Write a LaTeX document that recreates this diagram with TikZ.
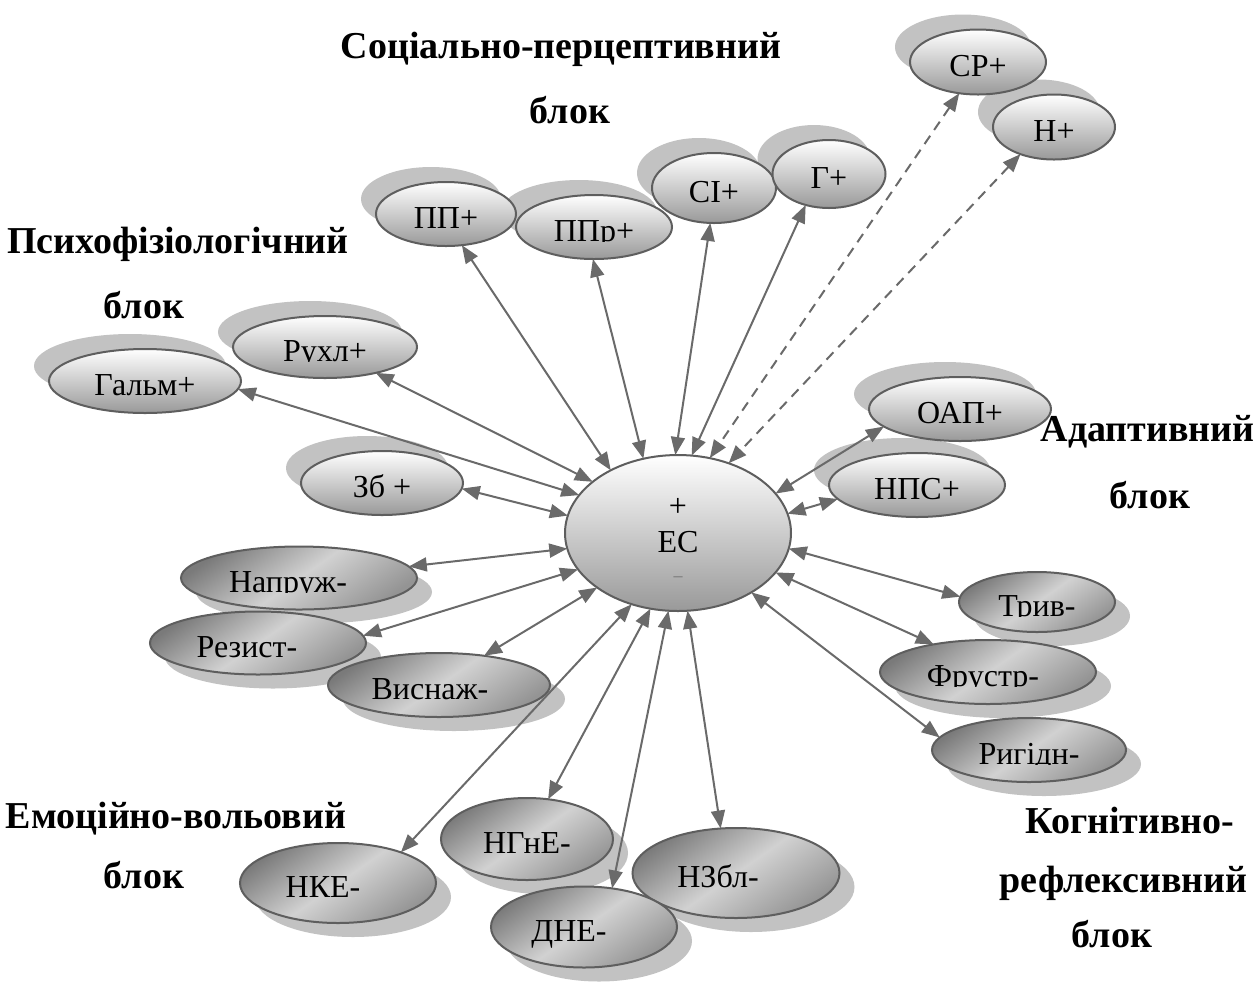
\documentclass[tikz,border=0pt]{standalone}
\usepackage{fontspec}
\setmainfont{Liberation Serif}
\usetikzlibrary{shapes.geometric,arrows.meta}
\pgfdeclarelayer{shadowlayer}
\pgfsetlayers{shadowlayer,main}
\definecolor{edgec}{HTML}{5E5E5E}
\definecolor{arrc}{HTML}{6A6A6A}
\definecolor{shadc}{HTML}{C2C2C2}
\tikzset{
  ovaltext/.style={inner sep=0pt, outer sep=0pt, font=\fontsize{16}{18}\selectfont,
    text height=14pt, text depth=0pt},
  ovalbase/.style={ellipse, draw=edgec, line width=1pt, ovaltext},
  posn/.style={ovalbase, top color=white, bottom color=black!40},
  negn/.style={ovalbase, left color=black!52, right color=black!42, middle color=black!18, shading angle=35},
  arr/.style={arrc, line width=1pt, {Triangle[length=9pt,width=7pt]}-{Triangle[length=9pt,width=7pt]}},
  darr/.style={arr, dash pattern=on 5pt off 3.5pt},
  lab/.style={font=\bfseries\fontsize{19}{23}\selectfont, inner sep=0pt, text height=13pt, text depth=0pt},
  ectxt/.style={inner sep=0pt, font=\fontsize{16}{18}\selectfont}
}
% name, x, y, width(pt), height(pt), text
\newcommand\mkpos[6]{%
  \node[posn, minimum width=#4pt, minimum height=#5pt] (#1) at (#2,#3) {#6};
  \begin{pgfonlayer}{shadowlayer}
    \fill[shadc] ([xshift=-7.5pt,yshift=7.5pt]#1.center) ellipse [x radius=#4pt/2, y radius=#5pt/2];
  \end{pgfonlayer}}
\newcommand\mkneg[6]{%
  \node[negn, minimum width=#4pt, minimum height=#5pt] (#1) at (#2,#3) {#6};
  \begin{pgfonlayer}{shadowlayer}
    \fill[shadc] ([xshift=7.5pt,yshift=-7pt]#1.center) ellipse [x radius=#4pt/2, y radius=#5pt/2];
  \end{pgfonlayer}}
% same, with the text cut at its base line (as in the reference)
\newcommand\cliptext[3]{% name, width(pt), text
  \begin{scope}
    \clip ([xshift=-#2pt/2,yshift=-7.2pt]#1.center) rectangle ([xshift=#2pt/2,yshift=12pt]#1.center);
    \node[ovaltext] (#1t) at (#1.center) {#3};
  \end{scope}}
\begin{document}
\begin{tikzpicture}[x=0.5pt,y=-0.5pt]
\useasboundingbox (0,0) rectangle (1259,982);

% positive nodes
\mkpos{pp}{446}{214}{70}{32}{ПП+}
\mkpos{ppr}{594}{227}{78}{32}{}
\cliptext{ppr}{78}{ППр+}
\mkpos{si}{714}{188}{62}{35}{СІ+}
\mkpos{g}{829}{174}{56.5}{34}{Г+}
\mkpos{sr}{978}{62}{68}{32.5}{СР+}
\mkpos{n}{1054}{127}{61}{32.5}{Н+}
\mkpos{oap}{960}{409}{91}{32}{ОАП+}
\mkpos{nps}{917}{485}{88}{32}{НПС+}
\mkpos{galm}{145}{381}{96}{32}{Гальм+}
\mkpos{rukh}{325}{347}{92}{31}{}
\cliptext{rukh}{92}{Рухл+}
\mkpos{zb}{382}{483}{81}{32}{Зб +}
\node[posn, minimum width=113pt, minimum height=78pt] (ec) at (678,533) {};
\node[ectxt] (ecplus) at ([yshift=13pt]ec.center) {+};
\node[ectxt] (ecname) at ([yshift=-4.5pt]ec.center) {ЕС};
\node[ectxt, font=\fontsize{9}{10}\selectfont, text=black!55] (ecminus) at ([yshift=-23pt]ec.center) {–};

% negative nodes
\mkneg{napr}{299}{578}{118}{31.5}{}
\cliptext{napr}{118}{Напруж-\hspace*{11pt}}
\mkneg{rez}{258}{643}{108}{31.5}{Резист-\hspace*{11pt}}
\mkneg{vysn}{439}{685}{111}{32}{Виснаж-\hspace*{9pt}}
\mkneg{tryv}{1037}{602}{78}{30}{}
\cliptext{tryv}{78}{Трив-}
\mkneg{frustr}{988}{672}{108}{32}{}
\cliptext{frustr}{108}{Фрустр-\hspace*{5pt}}
\mkneg{ryh}{1029}{750}{97}{32}{}
\cliptext{ryh}{97}{Ригідн-}
\mkneg{nhne}{527}{839}{86}{41}{НГнЕ-}
\mkneg{nke}{338}{883}{98}{40}{НКЕ-\hspace*{15pt}}
\mkneg{nzbl}{736}{873}{103.5}{45}{НЗбл-\hspace*{18pt}}
\mkneg{dne}{584}{927}{93}{40.5}{ДНЕ-\hspace*{15pt}}

% connectors
\draw[arr] (galm.-5) -- (ec.159);
\draw[arr] (rukh.-27) -- (ec.149);
\draw[arr] (zb.-4) -- (ec.171);
\draw[arr] (pp.-63) -- (ec.137);
\draw[arr] (ppr.-92) -- (ec.115);
\draw[arr] (si.-96) -- (ec.92);
\draw[arr] (g.-127) -- (ec.80);
\draw[darr] (sr.-121) -- (ec.67);
\draw[darr] (n.-141) -- (ec.54);
\draw[arr] (oap.193) -- (ec.22);
\draw[arr] (nps.190) -- (ec.10);
\draw[arr] (tryv.176) -- (ec.-8);
\draw[arr] (frustr.153) -- (ec.-22);
\draw[arr] (ryh.172) -- (ec.-39);
\draw[arr] (nzbl.109) -- (ec.-83);
\draw[arr] (dne.54) -- (ec.-97);
\draw[arr] (nhne.62) -- (ec.-110);
\draw[arr] (nke.26) -- (ec.-123);
\draw[arr] (vysn.33) -- (ec.-146);
\draw[arr] (rez.4) -- (ec.-160);
\draw[arr] (napr.6) -- (ec.-172);

% block labels
\node[lab] (soc1) at (561,45) {Соціально-перцептивний};
\node[lab] (soc2) at (570,110) {блок};
\node[lab] (psy1) at (178,240) {Психофізіологічний};
\node[lab] (psy2) at (144,305) {блок};
\node[lab, anchor=east] (ad1) at (1255,428) {Адаптивний};
\node[lab] (ad2) at (1150,495) {блок};
\node[lab] (em1) at (176,815) {Емоційно-вольовий};
\node[lab] (em2) at (144,875) {блок};
\node[lab] (kog1) at (1130,820) {Когнітивно-};
\node[lab, anchor=east] (kog2) at (1248,879) {рефлексивний};
\node[lab] (kog3) at (1112,934) {блок};
\end{tikzpicture}
\end{document}
